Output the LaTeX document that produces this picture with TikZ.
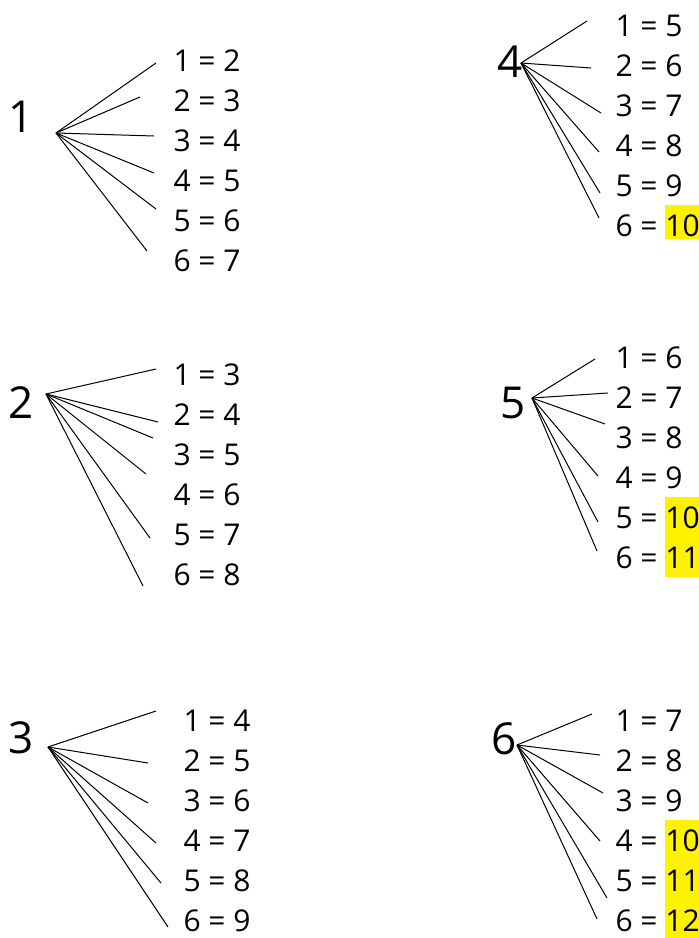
\documentclass[tikz,border=0pt]{standalone}
\usepackage{fontspec}
\setmainfont{Open Sans}
\usetikzlibrary{positioning}

% yellow marker behind sums of ten or more
\newcommand{\hilite}[2][9pt]{{\setlength{\fboxsep}{0pt}\colorbox{yellow}{\rule[-#1]{0pt}{\dimexpr#1+31pt\relax}#2}}}

\begin{document}
\begin{tikzpicture}[x=1pt, y=-1pt, line width=1pt]
  \tikzstyle{root}=[inner sep=0pt, font=\fontsize{44}{44}\selectfont]
  \tikzstyle{sum}=[anchor=base west, inner sep=0pt, font=\fontsize{30}{30}\selectfont]
  \useasboundingbox (0,0) rectangle (699,938);

  % first die, hub of its fan, and the six sums
  \foreach \t/\rx/\ry/\hx/\hy/\lx/\ly/\hd in {
    1/21/117/56/133/173/71/9,
    2/21/403/46/394/173/385/9,
    3/21/738/48/747/183/731/9,
    4/510/62/521/63/615/36/3,
    5/513/403/532/398/615/368/9,
    6/504/739/517/745/615/731/9}{
    \node[root] (r\t) at (\rx,\ry) {\t};
    \coordinate (h\t) at (\hx,\hy);
    \foreach \k in {1,...,6}{
      \pgfmathtruncatemacro{\s}{\t+\k}
      \node[sum] (l\t-\k) at (\lx,\ly+40*\k-40)
        {\k{} = \ifnum\s>9 \hilite[\hd pt]{\s}\else\s\fi};
    }
  }

  % loose ends of the fan lines
  \foreach \t/\k/\ex/\ey in {
    1/1/156/63, 1/2/140/97, 1/3/154/136, 1/4/154/173, 1/5/156/209, 1/6/147/251,
    2/1/156/369, 2/2/158/422, 2/3/153/438, 2/4/146/474, 2/5/150/538, 2/6/143/586,
    3/1/156/711, 3/2/148/763, 3/3/148/803, 3/4/156/843, 3/5/161/883, 3/6/168/927,
    4/1/587/21, 4/2/591/68, 4/3/601/113, 4/4/599/152, 4/5/600/193, 4/6/599/218,
    5/1/595/359, 5/2/608/393, 5/3/605/424, 5/4/598/476, 5/5/598/522, 5/6/597/551,
    6/1/592/714, 6/2/600/755, 6/3/603/793, 6/4/600/841, 6/5/607/898, 6/6/597/919}{
    \coordinate (e\t-\k) at (\ex,\ey);
  }

  \foreach \t in {1,...,6}{
    \foreach \k in {1,...,6}{
      \draw (h\t) -- (e\t-\k);
    }
  }
\end{tikzpicture}
\end{document}
